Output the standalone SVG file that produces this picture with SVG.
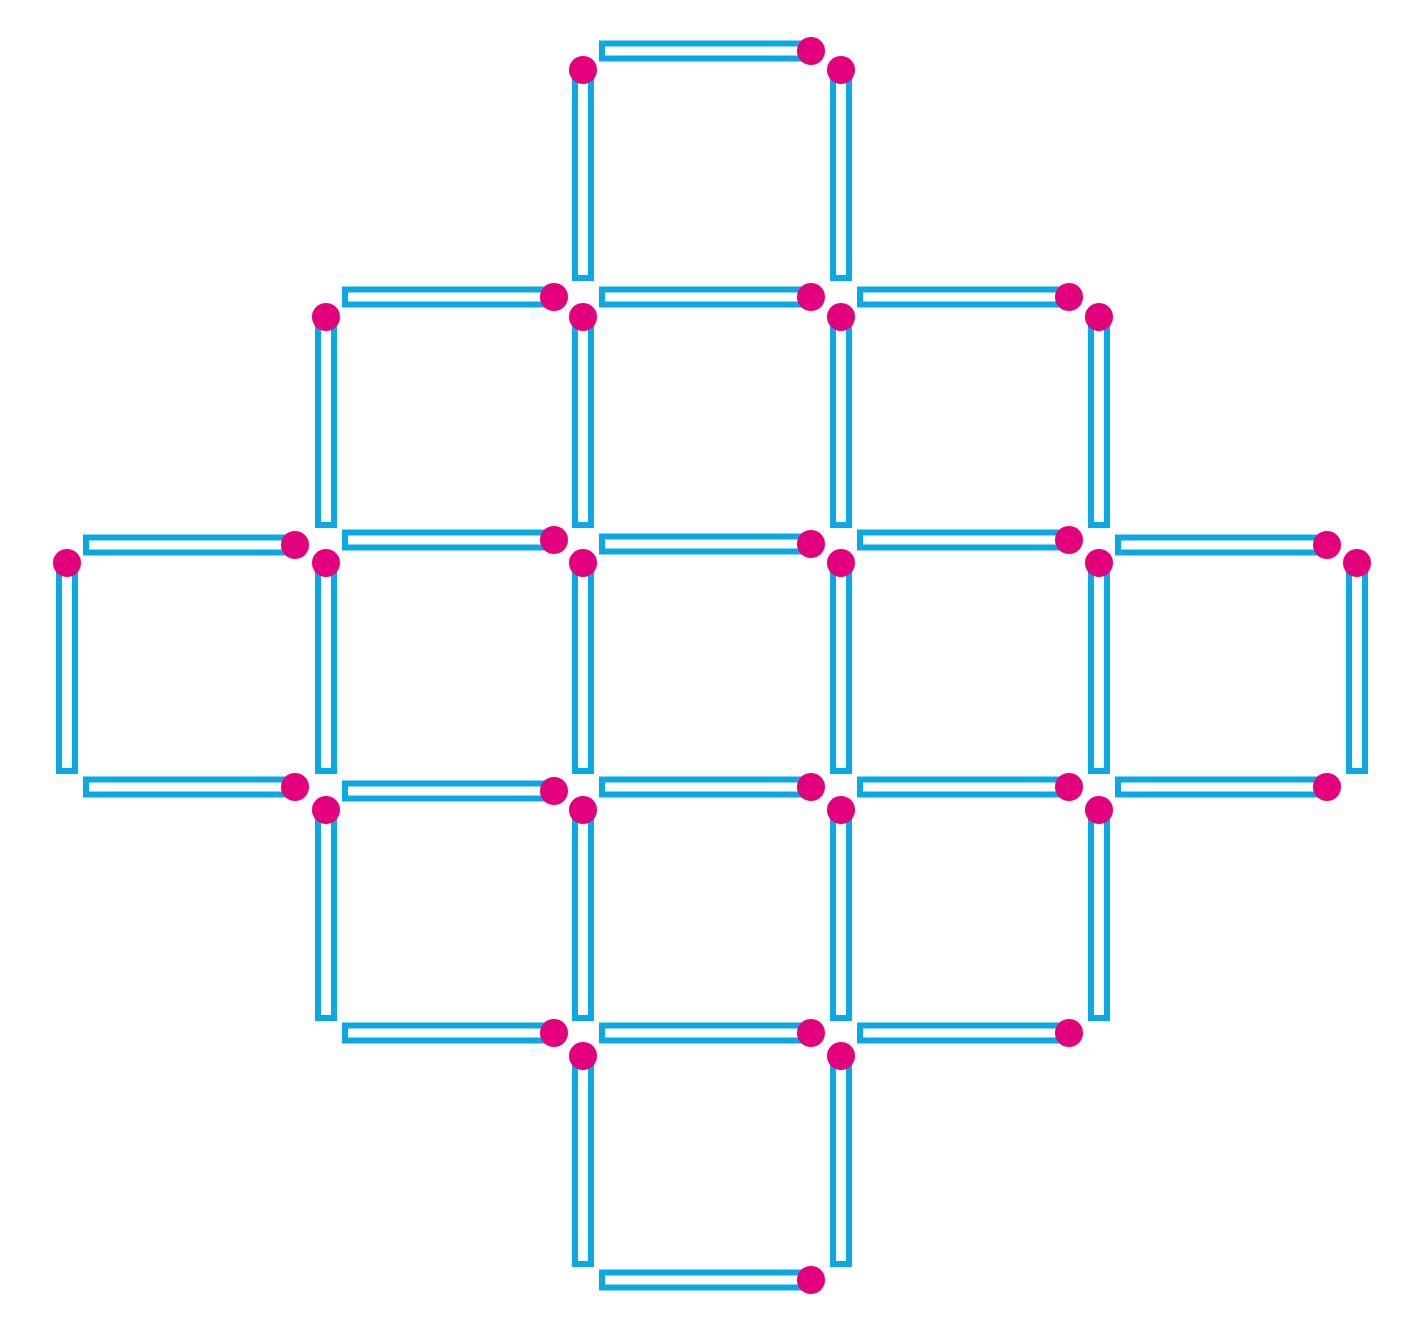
<svg xmlns="http://www.w3.org/2000/svg" width="1417" height="1325" viewBox="0 0 1417 1325">
<style>
.s{fill:#ffffff;stroke:#0aa9e6;stroke-width:6}
.h{fill:#e4007c}
</style>
<defs>
<g id="hm"><rect class="s" x="19" y="-7.5" width="209" height="15"/><circle class="h" cx="228" cy="0" r="14"/></g>
<g id="vm"><rect class="s" x="-8" y="22" width="16" height="205"/><circle class="h" cx="0" cy="19" r="14"/></g>
</defs>
<rect width="1417" height="1325" fill="#ffffff"/>
<g id="horizontal-matches">
<use id="h1" href="#hm" x="583" y="51"/>
<use id="h2" href="#hm" x="326" y="297"/>
<use id="h3" href="#hm" x="583" y="297"/>
<use id="h4" href="#hm" x="841" y="297"/>
<use id="h5" href="#hm" x="67" y="545"/>
<use id="h6" href="#hm" x="326" y="540"/>
<use id="h7" href="#hm" x="583" y="544"/>
<use id="h8" href="#hm" x="841" y="540"/>
<use id="h9" href="#hm" x="1099" y="545"/>
<use id="h10" href="#hm" x="67" y="787"/>
<use id="h11" href="#hm" x="326" y="791"/>
<use id="h12" href="#hm" x="583" y="787"/>
<use id="h13" href="#hm" x="841" y="787"/>
<use id="h14" href="#hm" x="1099" y="787"/>
<use id="h15" href="#hm" x="326" y="1033"/>
<use id="h16" href="#hm" x="583" y="1033"/>
<use id="h17" href="#hm" x="841" y="1033"/>
<use id="h18" href="#hm" x="583" y="1280"/>
</g>
<g id="vertical-matches">
<use id="v1" href="#vm" x="583" y="51"/>
<use id="v2" href="#vm" x="841" y="51"/>
<use id="v3" href="#vm" x="326" y="298"/>
<use id="v4" href="#vm" x="583" y="298"/>
<use id="v5" href="#vm" x="841" y="298"/>
<use id="v6" href="#vm" x="1099" y="298"/>
<use id="v7" href="#vm" x="67" y="544"/>
<use id="v8" href="#vm" x="326" y="544"/>
<use id="v9" href="#vm" x="583" y="544"/>
<use id="v10" href="#vm" x="841" y="544"/>
<use id="v11" href="#vm" x="1099" y="544"/>
<use id="v12" href="#vm" x="1357" y="544"/>
<use id="v13" href="#vm" x="326" y="791"/>
<use id="v14" href="#vm" x="583" y="791"/>
<use id="v15" href="#vm" x="841" y="791"/>
<use id="v16" href="#vm" x="1099" y="791"/>
<use id="v17" href="#vm" x="583" y="1037"/>
<use id="v18" href="#vm" x="841" y="1037"/>
</g>
</svg>
